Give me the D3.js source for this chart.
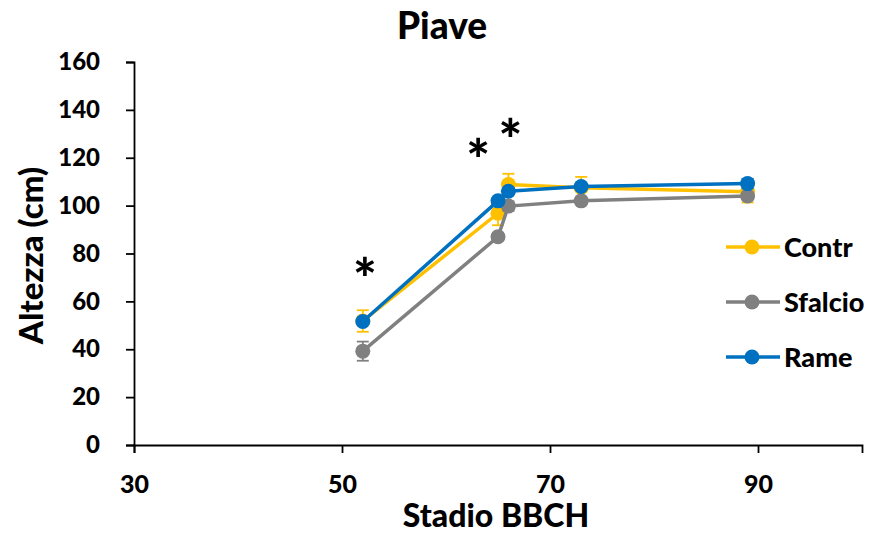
<!DOCTYPE html>
<html>
<head>
<meta charset="utf-8">
<script src="https://cdn.jsdelivr.net/npm/d3@7"></script>
<style>
  html, body { margin: 0; padding: 0; background: #fff; }
  svg { display: block; font-family: "Lato", "Open Sans", sans-serif; }
</style>
</head>
<body>
<svg id="chart" width="873" height="534"></svg>
<script>
// BBCH stages sampled and plant height (cm) per treatment
const stages = [52, 65, 66, 73, 89];
const contr   = [51.8, 96.8, 108.8, 107.5, 105.8];
const contrErr   = [4.5, 5, 4.5, 4.5, 4.5];
const sfalcio = [39.2, 87.0, 99.8, 102.0, 104.0];
const sfalcioErr = [4, 1.5, 2, 1.5, 1.5];
const rame    = [51.6, 102.0, 106.0, 108.0, 109.2];
const rameErr    = [1, 1, 1, 1, 2];
const seriesNames = ["Contr", "Sfalcio", "Rame"];
const seriesColors = ["#FFC000", "#808080", "#0070C0"];
const xTicks = [30, 50, 70, 90];
const yTicks = [0, 20, 40, 60, 80, 100, 120, 140, 160];
// significance marks: stage and height at the centre of each asterisk
const starStages = [52.2, 63.1, 66.2];
const starHeights = [74.5, 124.2, 132.3];

const series = [
  { name: seriesNames[0], color: seriesColors[0], values: contr, err: contrErr },
  { name: seriesNames[1], color: seriesColors[1], values: sfalcio, err: sfalcioErr },
  { name: seriesNames[2], color: seriesColors[2], values: rame, err: rameErr }
];

const W = 900; // heavy weight for all labels
const svg = d3.select("#chart");
const x = d3.scaleLinear().domain([30, 100]).range([134, 862]);
const y = d3.scaleLinear().domain([0, 160]).range([445, 62]);

// title
svg.append("text")
  .attr("x", 442).attr("y", 39)
  .attr("text-anchor", "middle")
  .attr("font-size", 37).attr("font-weight", W)
  .text("Piave");

// axes
const yAxis = svg.append("g")
  .attr("transform", `translate(${x(30)},0)`)
  .call(d3.axisLeft(y).tickValues(yTicks).tickSize(8).tickPadding(26).tickFormat(d3.format("d")));
const xAxis = svg.append("g")
  .attr("transform", `translate(0,${y(0)})`)
  .call(d3.axisBottom(x).tickValues(xTicks).tickSize(8).tickPadding(22).tickFormat(d3.format("d")));
yAxis.selectAll(".tick text").attr("font-size", 24);
xAxis.selectAll(".tick text").attr("font-size", 25);
[yAxis, xAxis].forEach(g => {
  g.select(".domain").attr("stroke", "#000").attr("stroke-width", 1.8);
  g.selectAll(".tick line").attr("stroke", "#000").attr("stroke-width", 1.8);
  g.selectAll(".tick text")
    .attr("fill", "#000")
    .attr("font-weight", W)
    .attr("font-family", "Lato, 'Open Sans', sans-serif");
});

// axis titles
svg.append("text")
  .attr("x", 496).attr("y", 527)
  .attr("text-anchor", "middle")
  .attr("font-size", 32).attr("font-weight", W)
  .text("Stadio BBCH");
svg.append("text")
  .attr("transform", `translate(43,${y(80) + 2}) rotate(-90)`)
  .attr("text-anchor", "middle")
  .attr("font-size", 33).attr("font-weight", W)
  .text("Altezza (cm)");

// series: lines, error bars, markers
const line = d3.line().x((d, i) => x(stages[i])).y(d => y(d));
series.forEach(s => {
  const g = svg.append("g");
  g.append("path")
    .datum(s.values)
    .attr("d", line)
    .attr("fill", "none")
    .attr("stroke", s.color)
    .attr("stroke-width", 3.5);
  s.values.forEach((v, i) => {
    const cx = x(stages[i]);
    const e = s.err[i];
    g.append("line")
      .attr("x1", cx).attr("x2", cx)
      .attr("y1", y(v - e)).attr("y2", y(v + e))
      .attr("stroke", s.color).attr("stroke-width", 1.8);
    [v - e, v + e].forEach(b => {
      g.append("line")
        .attr("x1", cx - 6).attr("x2", cx + 6)
        .attr("y1", y(b)).attr("y2", y(b))
        .attr("stroke", s.color).attr("stroke-width", 1.8);
    });
  });
  g.selectAll("circle")
    .data(s.values)
    .join("circle")
    .attr("cx", (d, i) => x(stages[i]))
    .attr("cy", d => y(d))
    .attr("r", 7.5)
    .attr("fill", s.color);
});

// significance asterisks (baseline sits below the glyph's visual centre)
starStages.forEach((st, i) => {
  svg.append("text")
    .attr("x", x(st)).attr("y", y(starHeights[i]) + 32)
    .attr("text-anchor", "middle")
    .attr("font-size", 56).attr("font-weight", W)
    .text("*");
});

// legend
const legend = svg.append("g");
series.forEach((s, i) => {
  const ly = 247 + i * 55;
  legend.append("line")
    .attr("x1", 726).attr("x2", 780)
    .attr("y1", ly).attr("y2", ly)
    .attr("stroke", s.color).attr("stroke-width", 3.5);
  legend.append("circle")
    .attr("cx", 752).attr("cy", ly).attr("r", 7.5)
    .attr("fill", s.color);
  legend.append("text")
    .attr("x", 784).attr("y", ly + 10)
    .attr("font-size", 27).attr("font-weight", W)
    .text(s.name);
});
</script>
</body>
</html>
